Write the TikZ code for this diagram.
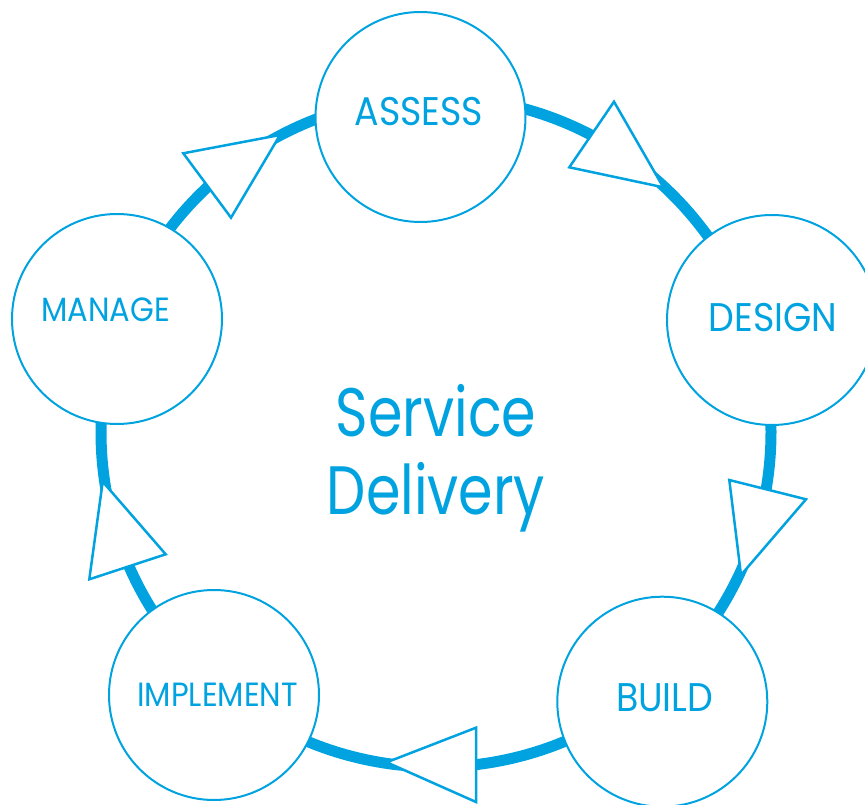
\documentclass[tikz,border=0pt]{standalone}
\usepackage{fontspec}
\setmainfont{Poppins}
\newfontfamily\stagefont{Poppins}[FakeStretch=0.91]
\newfontfamily\centrefont{Poppins}[FakeStretch=0.81]
\usetikzlibrary{positioning}
\definecolor{cycleblue}{RGB}{0,163,224}
\tikzset{
    stage/.style={circle, draw=cycleblue, line width=2pt, fill=white, minimum size=#1, inner sep=0pt},
    stage/.default=210pt,
    stagetext/.style={text=cycleblue, anchor=base, inner sep=0pt, font=\stagefont\fontsize{40}{48}\selectfont},
    smalltext/.style={stagetext, font=\stagefont\fontsize{33.6}{40}\selectfont},
    centertext/.style={text=cycleblue, anchor=base, inner sep=0pt, font=\centrefont\fontsize{68.5}{78}\selectfont},
    ring/.style={draw=cycleblue, line width=11pt},
    arrowhead/.style={draw=cycleblue, fill=white, line width=2.5pt, line join=miter}
}
\NewDocumentCommand{\drawstage}{m m m m m m O{stagetext}}{
    % circle first, then its label
    \node[stage] (#1) at (#2,#3) {};
    \node[#7] (#1-text) at ({#2+#5},{#3+#6}) {#4};
}
\newcommand{\drawarrowhead}[3]{
    \filldraw[arrowhead] (#1) -- (#2) -- (#3) -- cycle;
}

\begin{document}
\begin{tikzpicture}[x=1pt, y=-1pt]
    \useasboundingbox (0,0) rectangle (865,805);

    % Ring
    \coordinate (hub) at (436,432);
    \draw[ring] (hub) circle [radius=335];

    % Arrow heads
    \drawarrowhead{614,101.7}{569.3,167.3}{663.3,187.3}
    \drawarrowhead{729.3,480}{806,499.3}{741,575}
    \drawarrowhead{476,727.7}{476,802}{386.7,762.3}
    \drawarrowhead{102.7,481.7}{165.7,554.3}{89.3,579.3}
    \drawarrowhead{183.3,153.3}{280,135}{231,217.7}

    % Stages
    \drawstage{assess}{420.5}{117}{ASSESS}{-1.5}{9}
    \drawstage{design}{772}{320}{DESIGN}{1}{11}
    \drawstage{build}{662.3}{701.7}{BUILD}{2.4}{9.3}
    \drawstage{implement}{214}{695}{IMPLEMENT}{3.5}{11}[smalltext]
    \drawstage{manage}{117}{319}{MANAGE}{-11.5}{2}[smalltext]

    % Centre
    \node[centertext] (service) at (436,436.7) {Service};
    \node[centertext] (delivery) at ([yshift=-78pt]service.base) {Delivery};
\end{tikzpicture}
\end{document}
